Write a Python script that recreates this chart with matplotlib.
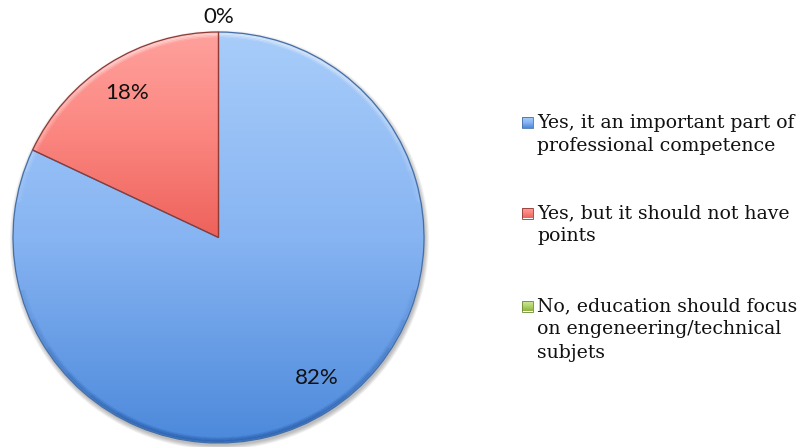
import numpy as np
import matplotlib.pyplot as plt
from matplotlib.colors import LinearSegmentedColormap
from matplotlib.patches import Circle, Rectangle, Arc

# Survey answers and their shares
labels = [
    "Yes, it an important part of\nprofessional competence",
    "Yes, but it should not have\npoints",
    "No, education should focus\non engeneering/technical\nsubjets",
]
values = [82, 18, 0]

# Slice styling: gradient from top colour to bottom colour, plus an outline
top_colors = ["#a8cdfa", "#ffa19d", "#d6eca6"]
mid_colors = ["#87b4f2", "#fb8680", "#b5d66f"]
bottom_colors = ["#4c89db", "#ee625b", "#8db443"]
edge_colors = ["#456fa8", "#8e3a35", "#6a8a32"]

W, H = 798, 447
fig = plt.figure(figsize=(W / 100, H / 100), dpi=100)
ax = fig.add_axes([0, 0, 1, 1])

cx, cy, r = 218.5, H - 237.5, 205.5


def gradient(top, mid, bottom, n=256):
    cmap = LinearSegmentedColormap.from_list("g", [bottom, mid, top])
    return cmap(np.linspace(0, 1, n))[:, None, :]


# soft drop shadow under the pie
for k in range(8):
    ax.add_patch(Circle((cx + 1.0, cy - 2.5), r + 0.6 * k, facecolor="black",
                        edgecolor="none", alpha=0.035, zorder=0))

wedges, _ = ax.pie(
    values,
    startangle=90,
    counterclock=False,
    center=(cx, cy),
    radius=r,
    colors=bottom_colors,
    wedgeprops=dict(linewidth=0.9),
)

for w, v, t, m, b, e in zip(wedges, values, top_colors, mid_colors,
                            bottom_colors, edge_colors):
    w.set_edgecolor(e)
    if v <= 0:
        w.set_visible(False)
        continue
    ext = w.get_path().get_extents()
    img = ax.imshow(gradient(t, m, b), origin="lower", aspect="auto",
                    extent=(ext.x0, ext.x1, ext.y0, ext.y1), zorder=1,
                    interpolation="bilinear")
    img.set_clip_path(w)
    w.set_facecolor("none")
    w.set_zorder(3)

# bevel: light rim along the upper edge, darker rim along the lower edge,
# built from stacked arcs so the ends fade out
for k, a in enumerate([0.09, 0.06, 0.03]):
    d = 2 * (r - 1.5 - k * 1.5)
    for j in range(6):
        ax.add_patch(Arc((cx, cy), d, d, theta1=10 + j * 9, theta2=170 - j * 9,
                         edgecolor="white", linewidth=1.6, alpha=a, zorder=2))
        ax.add_patch(Arc((cx, cy), d, d, theta1=195 + j * 9, theta2=345 - j * 9,
                         edgecolor="#1f4f99", linewidth=1.6, alpha=a * 0.9,
                         zorder=2))

# percentage labels
pct_font = dict(family=["Lato", "DejaVu Sans"], fontsize=16, color="#111111",
                ha="center", va="center", zorder=5)
pct_pos = [(317, 378), (127, 93), (218.5, 17)]
for v, (px, py) in zip(values, pct_pos):
    ax.text(px, H - py, f"{v}%", **pct_font)

# legend
leg_font = dict(family=["DejaVu Serif"], fontsize=13.6, color="#111111",
                ha="left", va="center", zorder=5)
entry_y = [122.5, 213, 306]
line_step = 23.4
for lab, y0, t, m, b, e in zip(labels, entry_y, top_colors, mid_colors,
                               bottom_colors, edge_colors):
    for i, line in enumerate(lab.split("\n")):
        ax.text(537, H - (y0 + i * line_step), line, **leg_font)
    sq = Rectangle((522, H - y0 - 5.5), 11, 11, facecolor="none",
                   edgecolor=e, linewidth=0.6, zorder=4)
    ax.add_patch(sq)
    img = ax.imshow(gradient(t, m, b, 32), origin="lower", aspect="auto",
                    extent=(522, 533, H - y0 - 5.5, H - y0 + 5.5), zorder=3)
    img.set_clip_path(sq)

ax.set_xlim(0, W)
ax.set_ylim(0, H)
ax.set_aspect("auto")
ax.axis("off")

fig.savefig("out.png", dpi=100, facecolor="white")
